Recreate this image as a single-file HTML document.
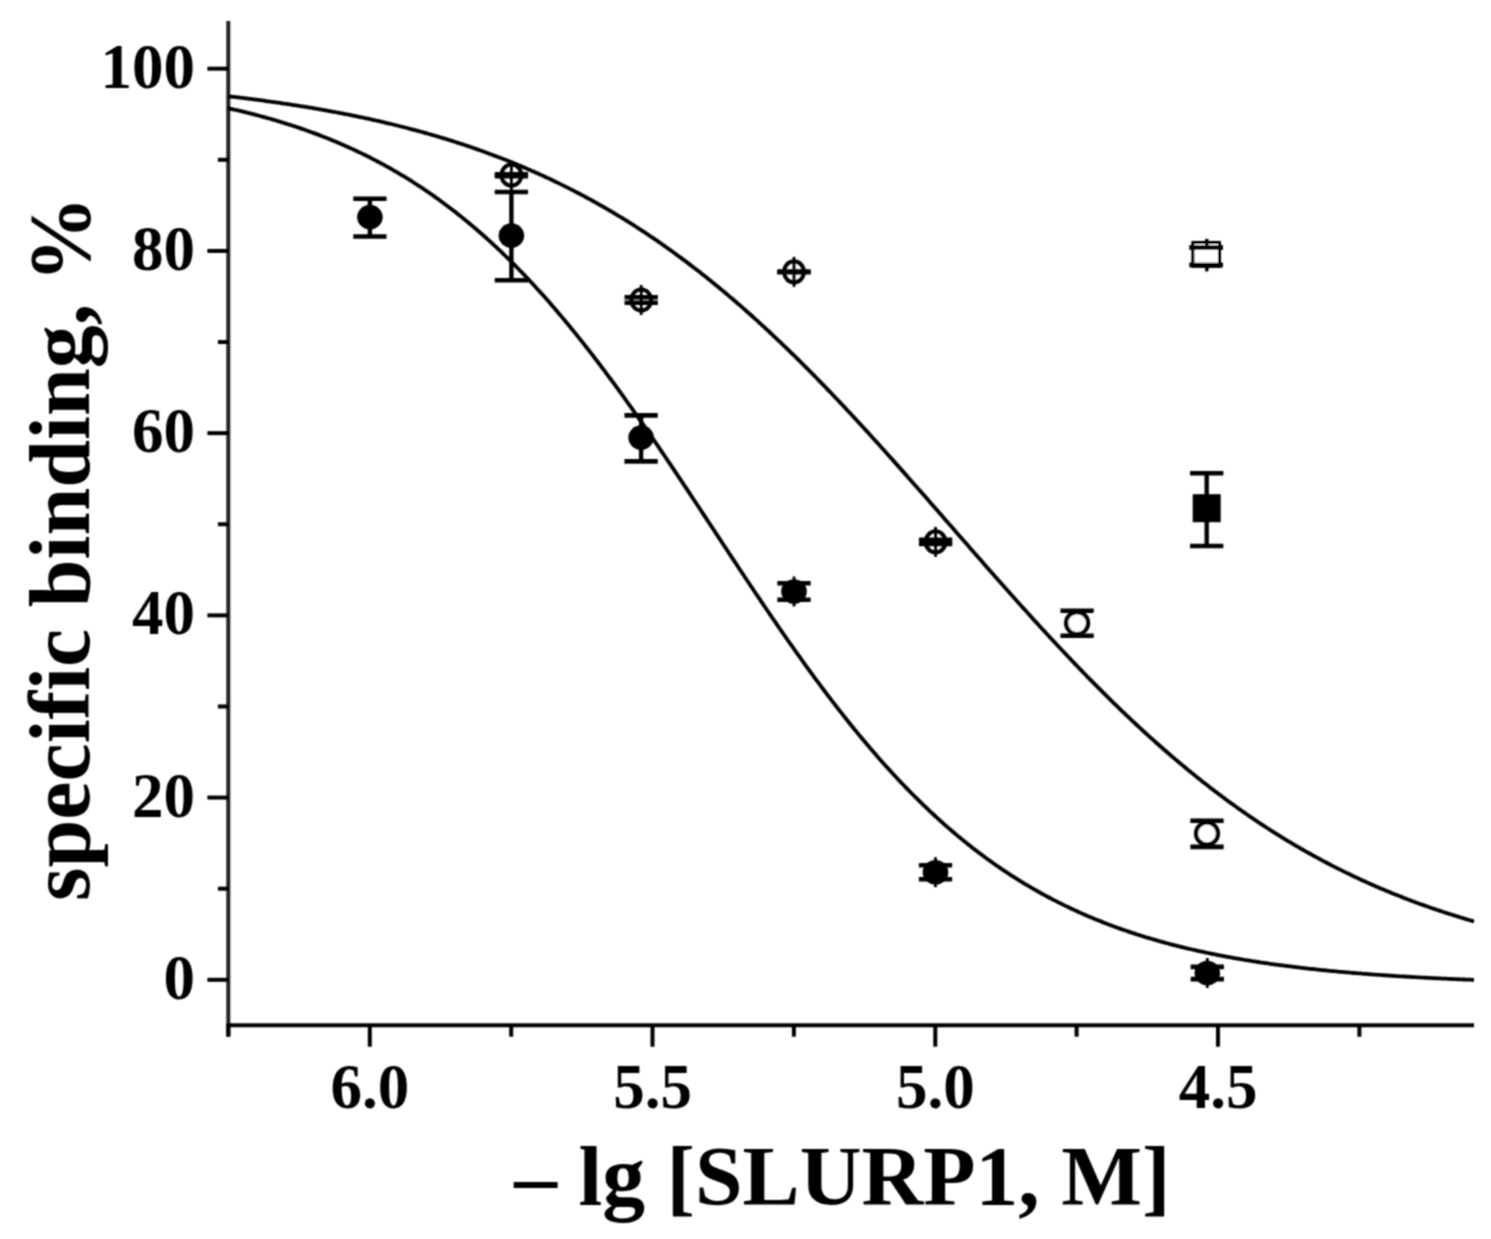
<!DOCTYPE html>
<html><head><meta charset="utf-8"><style>
html,body{margin:0;padding:0;background:#fff;}
body{width:1491px;height:1239px;overflow:hidden;}
svg{display:block;}
.t{font-family:"Liberation Serif",serif;font-weight:bold;fill:#000;}
</style></head><body>
<svg width="1491" height="1239" viewBox="0 0 1491 1239">
<defs><filter id="bl" x="0" y="0" width="1491" height="1239" filterUnits="userSpaceOnUse"><feConvolveMatrix order="3" kernelMatrix="1 2 1 2 4 2 1 2 1" divisor="16" edgeMode="duplicate"/></filter></defs>
<rect width="1491" height="1239" fill="#fff"/>
<g filter="url(#bl)">
<line x1="228.3" y1="21" x2="228.3" y2="1036.5" stroke="#222" stroke-width="4.0"/>
<line x1="226.4" y1="1025.2" x2="1474" y2="1025.2" stroke="#000" stroke-width="4.0"/>
<line x1="207.4" y1="979.80" x2="228.4" y2="979.80" stroke="#000" stroke-width="4.0"/>
<line x1="217.9" y1="888.69" x2="228.4" y2="888.69" stroke="#000" stroke-width="4.0"/>
<line x1="207.4" y1="797.58" x2="228.4" y2="797.58" stroke="#000" stroke-width="4.0"/>
<line x1="217.9" y1="706.47" x2="228.4" y2="706.47" stroke="#000" stroke-width="4.0"/>
<line x1="207.4" y1="615.36" x2="228.4" y2="615.36" stroke="#000" stroke-width="4.0"/>
<line x1="217.9" y1="524.25" x2="228.4" y2="524.25" stroke="#000" stroke-width="4.0"/>
<line x1="207.4" y1="433.14" x2="228.4" y2="433.14" stroke="#000" stroke-width="4.0"/>
<line x1="217.9" y1="342.03" x2="228.4" y2="342.03" stroke="#000" stroke-width="4.0"/>
<line x1="207.4" y1="250.92" x2="228.4" y2="250.92" stroke="#000" stroke-width="4.0"/>
<line x1="217.9" y1="159.81" x2="228.4" y2="159.81" stroke="#000" stroke-width="4.0"/>
<line x1="207.4" y1="68.70" x2="228.4" y2="68.70" stroke="#000" stroke-width="4.0"/>
<line x1="228.4" y1="1025.2" x2="228.4" y2="1036.7" stroke="#000" stroke-width="4.0"/>
<line x1="369.8" y1="1025.2" x2="369.8" y2="1046.7" stroke="#000" stroke-width="4.0"/>
<line x1="511.2" y1="1025.2" x2="511.2" y2="1036.7" stroke="#000" stroke-width="4.0"/>
<line x1="652.5" y1="1025.2" x2="652.5" y2="1046.7" stroke="#000" stroke-width="4.0"/>
<line x1="793.9" y1="1025.2" x2="793.9" y2="1036.7" stroke="#000" stroke-width="4.0"/>
<line x1="935.3" y1="1025.2" x2="935.3" y2="1046.7" stroke="#000" stroke-width="4.0"/>
<line x1="1076.6" y1="1025.2" x2="1076.6" y2="1036.7" stroke="#000" stroke-width="4.0"/>
<line x1="1218.0" y1="1025.2" x2="1218.0" y2="1046.7" stroke="#000" stroke-width="4.0"/>
<line x1="1359.4" y1="1025.2" x2="1359.4" y2="1036.7" stroke="#000" stroke-width="4.0"/>
<text x="195" y="998.8" text-anchor="end" class="t" font-size="63">0</text>
<text x="195" y="816.6" text-anchor="end" class="t" font-size="63">20</text>
<text x="195" y="634.4" text-anchor="end" class="t" font-size="63">40</text>
<text x="195" y="452.1" text-anchor="end" class="t" font-size="63">60</text>
<text x="195" y="269.9" text-anchor="end" class="t" font-size="63">80</text>
<text x="195" y="87.7" text-anchor="end" class="t" font-size="63">100</text>
<text x="369.8" y="1107.5" text-anchor="middle" class="t" font-size="63">6.0</text>
<text x="652.5" y="1107.5" text-anchor="middle" class="t" font-size="63">5.5</text>
<text x="935.3" y="1107.5" text-anchor="middle" class="t" font-size="63">5.0</text>
<text x="1218.0" y="1107.5" text-anchor="middle" class="t" font-size="63">4.5</text>
<text x="514.3" y="1205.3" class="t" font-size="85.6">– lg [SLURP1, M]</text>
<text transform="translate(89,901) rotate(-90)" class="t" font-size="86">specific binding, %</text>
<polyline points="228.0,108.19 230.0,108.63 232.0,109.09 234.0,109.54 236.0,110.00 238.0,110.47 240.0,110.94 242.0,111.42 244.0,111.91 246.0,112.40 248.0,112.90 250.0,113.40 252.0,113.91 254.0,114.42 256.0,114.95 258.0,115.47 260.0,116.01 262.0,116.55 264.0,117.10 266.0,117.65 268.0,118.21 270.0,118.78 272.0,119.36 274.0,119.94 276.0,120.53 278.0,121.12 280.0,121.72 282.0,122.33 284.0,122.95 286.0,123.58 288.0,124.21 290.0,124.85 292.0,125.50 294.0,126.15 296.0,126.81 298.0,127.48 300.0,128.16 302.0,128.85 304.0,129.54 306.0,130.25 308.0,130.96 310.0,131.68 312.0,132.41 314.0,133.14 316.0,133.89 318.0,134.64 320.0,135.40 322.0,136.17 324.0,136.95 326.0,137.74 328.0,138.54 330.0,139.35 332.0,140.17 334.0,140.99 336.0,141.83 338.0,142.67 340.0,143.53 342.0,144.39 344.0,145.27 346.0,146.15 348.0,147.04 350.0,147.95 352.0,148.86 354.0,149.79 356.0,150.72 358.0,151.67 360.0,152.62 362.0,153.59 364.0,154.57 366.0,155.55 368.0,156.55 370.0,157.56 372.0,158.58 374.0,159.62 376.0,160.66 378.0,161.71 380.0,162.78 382.0,163.86 384.0,164.94 386.0,166.04 388.0,167.16 390.0,168.28 392.0,169.42 394.0,170.56 396.0,171.73 398.0,172.90 400.0,174.08 402.0,175.28 404.0,176.49 406.0,177.71 408.0,178.95 410.0,180.19 412.0,181.45 414.0,182.73 416.0,184.01 418.0,185.31 420.0,186.62 422.0,187.95 424.0,189.29 426.0,190.64 428.0,192.01 430.0,193.38 432.0,194.78 434.0,196.18 436.0,197.60 438.0,199.04 440.0,200.49 442.0,201.95 444.0,203.43 446.0,204.92 448.0,206.42 450.0,207.94 452.0,209.47 454.0,211.02 456.0,212.58 458.0,214.16 460.0,215.75 462.0,217.36 464.0,218.98 466.0,220.61 468.0,222.26 470.0,223.93 472.0,225.61 474.0,227.30 476.0,229.01 478.0,230.74 480.0,232.48 482.0,234.23 484.0,236.00 486.0,237.79 488.0,239.59 490.0,241.41 492.0,243.24 494.0,245.09 496.0,246.95 498.0,248.83 500.0,250.72 502.0,252.63 504.0,254.56 506.0,256.50 508.0,258.45 510.0,260.43 512.0,262.41 514.0,264.42 516.0,266.43 518.0,268.47 520.0,270.52 522.0,272.58 524.0,274.66 526.0,276.76 528.0,278.87 530.0,281.00 532.0,283.14 534.0,285.30 536.0,287.47 538.0,289.66 540.0,291.87 542.0,294.09 544.0,296.32 546.0,298.58 548.0,300.84 550.0,303.12 552.0,305.42 554.0,307.73 556.0,310.06 558.0,312.40 560.0,314.75 562.0,317.13 564.0,319.51 566.0,321.91 568.0,324.33 570.0,326.76 572.0,329.20 574.0,331.66 576.0,334.13 578.0,336.62 580.0,339.12 582.0,341.64 584.0,344.17 586.0,346.71 588.0,349.27 590.0,351.84 592.0,354.42 594.0,357.02 596.0,359.63 598.0,362.25 600.0,364.88 602.0,367.53 604.0,370.19 606.0,372.87 608.0,375.55 610.0,378.25 612.0,380.96 614.0,383.68 616.0,386.42 618.0,389.16 620.0,391.92 622.0,394.68 624.0,397.46 626.0,400.25 628.0,403.05 630.0,405.86 632.0,408.68 634.0,411.51 636.0,414.35 638.0,417.20 640.0,420.06 642.0,422.93 644.0,425.80 646.0,428.69 648.0,431.58 650.0,434.48 652.0,437.40 654.0,440.31 656.0,443.24 658.0,446.17 660.0,449.11 662.0,452.06 664.0,455.02 666.0,457.98 668.0,460.94 670.0,463.92 672.0,466.89 674.0,469.88 676.0,472.87 678.0,475.86 680.0,478.86 682.0,481.86 684.0,484.87 686.0,487.88 688.0,490.90 690.0,493.92 692.0,496.94 694.0,499.96 696.0,502.99 698.0,506.02 700.0,509.05 702.0,512.09 704.0,515.12 706.0,518.16 708.0,521.19 710.0,524.23 712.0,527.27 714.0,530.31 716.0,533.35 718.0,536.39 720.0,539.42 722.0,542.46 724.0,545.50 726.0,548.53 728.0,551.56 730.0,554.60 732.0,557.62 734.0,560.65 736.0,563.67 738.0,566.69 740.0,569.71 742.0,572.72 744.0,575.73 746.0,578.74 748.0,581.74 750.0,584.74 752.0,587.73 754.0,590.72 756.0,593.70 758.0,596.68 760.0,599.65 762.0,602.61 764.0,605.57 766.0,608.52 768.0,611.46 770.0,614.40 772.0,617.33 774.0,620.25 776.0,623.17 778.0,626.08 780.0,628.97 782.0,631.86 784.0,634.75 786.0,637.62 788.0,640.48 790.0,643.34 792.0,646.18 794.0,649.02 796.0,651.84 798.0,654.66 800.0,657.46 802.0,660.26 804.0,663.04 806.0,665.82 808.0,668.58 810.0,671.33 812.0,674.07 814.0,676.80 816.0,679.51 818.0,682.22 820.0,684.91 822.0,687.59 824.0,690.26 826.0,692.92 828.0,695.56 830.0,698.19 832.0,700.81 834.0,703.41 836.0,706.00 838.0,708.58 840.0,711.14 842.0,713.69 844.0,716.23 846.0,718.75 848.0,721.26 850.0,723.76 852.0,726.24 854.0,728.70 856.0,731.16 858.0,733.59 860.0,736.02 862.0,738.43 864.0,740.82 866.0,743.20 868.0,745.57 870.0,747.92 872.0,750.25 874.0,752.57 876.0,754.87 878.0,757.16 880.0,759.44 882.0,761.70 884.0,763.94 886.0,766.17 888.0,768.38 890.0,770.58 892.0,772.76 894.0,774.93 896.0,777.08 898.0,779.22 900.0,781.34 902.0,783.45 904.0,785.53 906.0,787.61 908.0,789.67 910.0,791.71 912.0,793.74 914.0,795.75 916.0,797.74 918.0,799.72 920.0,801.69 922.0,803.64 924.0,805.57 926.0,807.49 928.0,809.39 930.0,811.28 932.0,813.15 934.0,815.01 936.0,816.85 938.0,818.67 940.0,820.48 942.0,822.28 944.0,824.06 946.0,825.82 948.0,827.57 950.0,829.30 952.0,831.02 954.0,832.73 956.0,834.41 958.0,836.09 960.0,837.75 962.0,839.39 964.0,841.02 966.0,842.63 968.0,844.23 970.0,845.82 972.0,847.39 974.0,848.94 976.0,850.48 978.0,852.01 980.0,853.52 982.0,855.02 984.0,856.51 986.0,857.98 988.0,859.43 990.0,860.87 992.0,862.30 994.0,863.72 996.0,865.12 998.0,866.50 1000.0,867.88 1002.0,869.24 1004.0,870.58 1006.0,871.92 1008.0,873.24 1010.0,874.54 1012.0,875.84 1014.0,877.12 1016.0,878.38 1018.0,879.64 1020.0,880.88 1022.0,882.11 1024.0,883.33 1026.0,884.53 1028.0,885.72 1030.0,886.90 1032.0,888.07 1034.0,889.22 1036.0,890.36 1038.0,891.50 1040.0,892.61 1042.0,893.72 1044.0,894.82 1046.0,895.90 1048.0,896.97 1050.0,898.03 1052.0,899.08 1054.0,900.12 1056.0,901.15 1058.0,902.16 1060.0,903.17 1062.0,904.16 1064.0,905.14 1066.0,906.12 1068.0,907.08 1070.0,908.03 1072.0,908.97 1074.0,909.90 1076.0,910.82 1078.0,911.73 1080.0,912.63 1082.0,913.52 1084.0,914.40 1086.0,915.27 1088.0,916.13 1090.0,916.98 1092.0,917.82 1094.0,918.65 1096.0,919.47 1098.0,920.29 1100.0,921.09 1102.0,921.88 1104.0,922.67 1106.0,923.45 1108.0,924.21 1110.0,924.97 1112.0,925.72 1114.0,926.46 1116.0,927.20 1118.0,927.92 1120.0,928.64 1122.0,929.34 1124.0,930.04 1126.0,930.73 1128.0,931.42 1130.0,932.09 1132.0,932.76 1134.0,933.42 1136.0,934.07 1138.0,934.71 1140.0,935.35 1142.0,935.98 1144.0,936.60 1146.0,937.21 1148.0,937.82 1150.0,938.42 1152.0,939.01 1154.0,939.60 1156.0,940.18 1158.0,940.75 1160.0,941.31 1162.0,941.87 1164.0,942.42 1166.0,942.97 1168.0,943.51 1170.0,944.04 1172.0,944.56 1174.0,945.08 1176.0,945.60 1178.0,946.10 1180.0,946.60 1182.0,947.10 1184.0,947.59 1186.0,948.07 1188.0,948.54 1190.0,949.01 1192.0,949.48 1194.0,949.94 1196.0,950.39 1198.0,950.84 1200.0,951.28 1202.0,951.72 1204.0,952.15 1206.0,952.58 1208.0,953.00 1210.0,953.42 1212.0,953.83 1214.0,954.23 1216.0,954.64 1218.0,955.03 1220.0,955.42 1222.0,955.81 1224.0,956.19 1226.0,956.57 1228.0,956.94 1230.0,957.31 1232.0,957.67 1234.0,958.03 1236.0,958.38 1238.0,958.73 1240.0,959.08 1242.0,959.42 1244.0,959.75 1246.0,960.09 1248.0,960.41 1250.0,960.74 1252.0,961.06 1254.0,961.37 1256.0,961.69 1258.0,962.00 1260.0,962.30 1262.0,962.60 1264.0,962.90 1266.0,963.19 1268.0,963.48 1270.0,963.76 1272.0,964.05 1274.0,964.33 1276.0,964.60 1278.0,964.87 1280.0,965.14 1282.0,965.40 1284.0,965.67 1286.0,965.92 1288.0,966.18 1290.0,966.43 1292.0,966.68 1294.0,966.92 1296.0,967.17 1298.0,967.40 1300.0,967.64 1302.0,967.87 1304.0,968.10 1306.0,968.33 1308.0,968.55 1310.0,968.78 1312.0,968.99 1314.0,969.21 1316.0,969.42 1318.0,969.63 1320.0,969.84 1322.0,970.05 1324.0,970.25 1326.0,970.45 1328.0,970.64 1330.0,970.84 1332.0,971.03 1334.0,971.22 1336.0,971.41 1338.0,971.59 1340.0,971.77 1342.0,971.95 1344.0,972.13 1346.0,972.31 1348.0,972.48 1350.0,972.65 1352.0,972.82 1354.0,972.99 1356.0,973.15 1358.0,973.31 1360.0,973.47 1362.0,973.63 1364.0,973.79 1366.0,973.94 1368.0,974.10 1370.0,974.25 1372.0,974.39 1374.0,974.54 1376.0,974.68 1378.0,974.83 1380.0,974.97 1382.0,975.11 1384.0,975.24 1386.0,975.38 1388.0,975.51 1390.0,975.64 1392.0,975.77 1394.0,975.90 1396.0,976.03 1398.0,976.15 1400.0,976.28 1402.0,976.40 1404.0,976.52 1406.0,976.64 1408.0,976.76 1410.0,976.87 1412.0,976.99 1414.0,977.10 1416.0,977.21 1418.0,977.32 1420.0,977.43 1422.0,977.54 1424.0,977.64 1426.0,977.75 1428.0,977.85 1430.0,977.95 1432.0,978.05 1434.0,978.15 1436.0,978.25 1438.0,978.34 1440.0,978.44 1442.0,978.53 1444.0,978.62 1446.0,978.72 1448.0,978.81 1450.0,978.89 1452.0,978.98 1454.0,979.07 1456.0,979.16 1458.0,979.24 1460.0,979.32 1462.0,979.41 1464.0,979.49 1466.0,979.57 1468.0,979.65 1470.0,979.72 1472.0,979.80 1474.0,979.88" fill="none" stroke="#000" stroke-width="3.8" stroke-linejoin="round"/>
<polyline points="228.0,96.29 230.0,96.52 232.0,96.75 234.0,96.98 236.0,97.22 238.0,97.45 240.0,97.69 242.0,97.93 244.0,98.18 246.0,98.42 248.0,98.67 250.0,98.92 252.0,99.17 254.0,99.43 256.0,99.68 258.0,99.94 260.0,100.21 262.0,100.47 264.0,100.74 266.0,101.01 268.0,101.28 270.0,101.56 272.0,101.84 274.0,102.12 276.0,102.40 278.0,102.69 280.0,102.97 282.0,103.26 284.0,103.56 286.0,103.86 288.0,104.16 290.0,104.46 292.0,104.76 294.0,105.07 296.0,105.38 298.0,105.70 300.0,106.01 302.0,106.33 304.0,106.66 306.0,106.98 308.0,107.31 310.0,107.64 312.0,107.98 314.0,108.32 316.0,108.66 318.0,109.00 320.0,109.35 322.0,109.70 324.0,110.06 326.0,110.41 328.0,110.77 330.0,111.14 332.0,111.51 334.0,111.88 336.0,112.25 338.0,112.63 340.0,113.01 342.0,113.40 344.0,113.78 346.0,114.18 348.0,114.57 350.0,114.97 352.0,115.37 354.0,115.78 356.0,116.19 358.0,116.61 360.0,117.02 362.0,117.45 364.0,117.87 366.0,118.30 368.0,118.73 370.0,119.17 372.0,119.61 374.0,120.06 376.0,120.51 378.0,120.96 380.0,121.42 382.0,121.88 384.0,122.35 386.0,122.82 388.0,123.29 390.0,123.77 392.0,124.25 394.0,124.74 396.0,125.23 398.0,125.73 400.0,126.23 402.0,126.73 404.0,127.24 406.0,127.76 408.0,128.28 410.0,128.80 412.0,129.33 414.0,129.86 416.0,130.40 418.0,130.94 420.0,131.49 422.0,132.04 424.0,132.59 426.0,133.15 428.0,133.72 430.0,134.29 432.0,134.87 434.0,135.45 436.0,136.04 438.0,136.63 440.0,137.22 442.0,137.83 444.0,138.43 446.0,139.05 448.0,139.66 450.0,140.29 452.0,140.91 454.0,141.55 456.0,142.19 458.0,142.83 460.0,143.48 462.0,144.14 464.0,144.80 466.0,145.47 468.0,146.14 470.0,146.82 472.0,147.50 474.0,148.19 476.0,148.89 478.0,149.59 480.0,150.30 482.0,151.01 484.0,151.73 486.0,152.45 488.0,153.19 490.0,153.92 492.0,154.67 494.0,155.42 496.0,156.17 498.0,156.93 500.0,157.70 502.0,158.48 504.0,159.26 506.0,160.05 508.0,160.84 510.0,161.64 512.0,162.45 514.0,163.26 516.0,164.08 518.0,164.91 520.0,165.74 522.0,166.58 524.0,167.43 526.0,168.28 528.0,169.15 530.0,170.01 532.0,170.89 534.0,171.77 536.0,172.66 538.0,173.55 540.0,174.46 542.0,175.36 544.0,176.28 546.0,177.21 548.0,178.14 550.0,179.07 552.0,180.02 554.0,180.97 556.0,181.93 558.0,182.90 560.0,183.88 562.0,184.86 564.0,185.85 566.0,186.85 568.0,187.85 570.0,188.86 572.0,189.88 574.0,190.91 576.0,191.95 578.0,192.99 580.0,194.04 582.0,195.10 584.0,196.17 586.0,197.24 588.0,198.33 590.0,199.42 592.0,200.51 594.0,201.62 596.0,202.74 598.0,203.86 600.0,204.99 602.0,206.13 604.0,207.27 606.0,208.43 608.0,209.59 610.0,210.76 612.0,211.94 614.0,213.13 616.0,214.33 618.0,215.53 620.0,216.75 622.0,217.97 624.0,219.20 626.0,220.44 628.0,221.68 630.0,222.94 632.0,224.20 634.0,225.47 636.0,226.75 638.0,228.04 640.0,229.34 642.0,230.65 644.0,231.96 646.0,233.29 648.0,234.62 650.0,235.96 652.0,237.31 654.0,238.67 656.0,240.04 658.0,241.41 660.0,242.80 662.0,244.19 664.0,245.60 666.0,247.01 668.0,248.43 670.0,249.86 672.0,251.29 674.0,252.74 676.0,254.19 678.0,255.66 680.0,257.13 682.0,258.61 684.0,260.11 686.0,261.60 688.0,263.11 690.0,264.63 692.0,266.16 694.0,267.69 696.0,269.24 698.0,270.79 700.0,272.35 702.0,273.92 704.0,275.50 706.0,277.09 708.0,278.69 710.0,280.29 712.0,281.91 714.0,283.53 716.0,285.16 718.0,286.81 720.0,288.46 722.0,290.11 724.0,291.78 726.0,293.46 728.0,295.14 730.0,296.84 732.0,298.54 734.0,300.25 736.0,301.97 738.0,303.70 740.0,305.44 742.0,307.18 744.0,308.94 746.0,310.70 748.0,312.47 750.0,314.25 752.0,316.04 754.0,317.84 756.0,319.64 758.0,321.45 760.0,323.28 762.0,325.11 764.0,326.94 766.0,328.79 768.0,330.65 770.0,332.51 772.0,334.38 774.0,336.26 776.0,338.14 778.0,340.04 780.0,341.94 782.0,343.85 784.0,345.77 786.0,347.70 788.0,349.63 790.0,351.57 792.0,353.52 794.0,355.48 796.0,357.44 798.0,359.41 800.0,361.39 802.0,363.38 804.0,365.37 806.0,367.37 808.0,369.38 810.0,371.40 812.0,373.42 814.0,375.45 816.0,377.48 818.0,379.52 820.0,381.57 822.0,383.63 824.0,385.69 826.0,387.76 828.0,389.84 830.0,391.92 832.0,394.01 834.0,396.10 836.0,398.20 838.0,400.31 840.0,402.42 842.0,404.54 844.0,406.66 846.0,408.79 848.0,410.93 850.0,413.07 852.0,415.21 854.0,417.36 856.0,419.52 858.0,421.68 860.0,423.85 862.0,426.02 864.0,428.20 866.0,430.38 868.0,432.57 870.0,434.76 872.0,436.96 874.0,439.16 876.0,441.36 878.0,443.57 880.0,445.78 882.0,448.00 884.0,450.22 886.0,452.45 888.0,454.68 890.0,456.91 892.0,459.14 894.0,461.38 896.0,463.63 898.0,465.87 900.0,468.12 902.0,470.37 904.0,472.63 906.0,474.88 908.0,477.14 910.0,479.41 912.0,481.67 914.0,483.94 916.0,486.21 918.0,488.48 920.0,490.75 922.0,493.03 924.0,495.31 926.0,497.59 928.0,499.87 930.0,502.15 932.0,504.43 934.0,506.72 936.0,509.00 938.0,511.29 940.0,513.57 942.0,515.86 944.0,518.15 946.0,520.44 948.0,522.73 950.0,525.02 952.0,527.31 954.0,529.60 956.0,531.89 958.0,534.18 960.0,536.47 962.0,538.76 964.0,541.05 966.0,543.33 968.0,545.62 970.0,547.91 972.0,550.19 974.0,552.48 976.0,554.76 978.0,557.04 980.0,559.32 982.0,561.60 984.0,563.88 986.0,566.15 988.0,568.42 990.0,570.70 992.0,572.96 994.0,575.23 996.0,577.49 998.0,579.76 1000.0,582.02 1002.0,584.27 1004.0,586.53 1006.0,588.78 1008.0,591.02 1010.0,593.27 1012.0,595.51 1014.0,597.75 1016.0,599.98 1018.0,602.21 1020.0,604.44 1022.0,606.66 1024.0,608.88 1026.0,611.10 1028.0,613.31 1030.0,615.52 1032.0,617.72 1034.0,619.92 1036.0,622.12 1038.0,624.31 1040.0,626.49 1042.0,628.67 1044.0,630.85 1046.0,633.02 1048.0,635.18 1050.0,637.34 1052.0,639.50 1054.0,641.65 1056.0,643.79 1058.0,645.93 1060.0,648.07 1062.0,650.19 1064.0,652.32 1066.0,654.43 1068.0,656.54 1070.0,658.65 1072.0,660.74 1074.0,662.84 1076.0,664.92 1078.0,667.00 1080.0,669.08 1082.0,671.14 1084.0,673.20 1086.0,675.26 1088.0,677.30 1090.0,679.34 1092.0,681.38 1094.0,683.40 1096.0,685.42 1098.0,687.43 1100.0,689.44 1102.0,691.44 1104.0,693.43 1106.0,695.41 1108.0,697.39 1110.0,699.36 1112.0,701.32 1114.0,703.27 1116.0,705.22 1118.0,707.16 1120.0,709.09 1122.0,711.01 1124.0,712.93 1126.0,714.84 1128.0,716.74 1130.0,718.63 1132.0,720.51 1134.0,722.39 1136.0,724.26 1138.0,726.12 1140.0,727.97 1142.0,729.81 1144.0,731.65 1146.0,733.48 1148.0,735.29 1150.0,737.11 1152.0,738.91 1154.0,740.70 1156.0,742.49 1158.0,744.26 1160.0,746.03 1162.0,747.79 1164.0,749.54 1166.0,751.29 1168.0,753.02 1170.0,754.75 1172.0,756.46 1174.0,758.17 1176.0,759.87 1178.0,761.56 1180.0,763.24 1182.0,764.92 1184.0,766.58 1186.0,768.24 1188.0,769.89 1190.0,771.52 1192.0,773.15 1194.0,774.77 1196.0,776.39 1198.0,777.99 1200.0,779.58 1202.0,781.17 1204.0,782.75 1206.0,784.31 1208.0,785.87 1210.0,787.42 1212.0,788.96 1214.0,790.49 1216.0,792.02 1218.0,793.53 1220.0,795.04 1222.0,796.53 1224.0,798.02 1226.0,799.50 1228.0,800.97 1230.0,802.43 1232.0,803.89 1234.0,805.33 1236.0,806.76 1238.0,808.19 1240.0,809.61 1242.0,811.01 1244.0,812.41 1246.0,813.81 1248.0,815.19 1250.0,816.56 1252.0,817.92 1254.0,819.28 1256.0,820.63 1258.0,821.97 1260.0,823.30 1262.0,824.62 1264.0,825.93 1266.0,827.23 1268.0,828.53 1270.0,829.81 1272.0,831.09 1274.0,832.36 1276.0,833.62 1278.0,834.87 1280.0,836.12 1282.0,837.35 1284.0,838.58 1286.0,839.80 1288.0,841.01 1290.0,842.21 1292.0,843.40 1294.0,844.59 1296.0,845.77 1298.0,846.94 1300.0,848.10 1302.0,849.25 1304.0,850.39 1306.0,851.53 1308.0,852.66 1310.0,853.78 1312.0,854.89 1314.0,855.99 1316.0,857.09 1318.0,858.18 1320.0,859.26 1322.0,860.33 1324.0,861.39 1326.0,862.45 1328.0,863.50 1330.0,864.54 1332.0,865.57 1334.0,866.60 1336.0,867.61 1338.0,868.62 1340.0,869.63 1342.0,870.62 1344.0,871.61 1346.0,872.59 1348.0,873.56 1350.0,874.53 1352.0,875.48 1354.0,876.43 1356.0,877.38 1358.0,878.31 1360.0,879.24 1362.0,880.16 1364.0,881.08 1366.0,881.98 1368.0,882.88 1370.0,883.78 1372.0,884.66 1374.0,885.54 1376.0,886.41 1378.0,887.28 1380.0,888.14 1382.0,888.99 1384.0,889.83 1386.0,890.67 1388.0,891.50 1390.0,892.33 1392.0,893.15 1394.0,893.96 1396.0,894.76 1398.0,895.56 1400.0,896.35 1402.0,897.14 1404.0,897.92 1406.0,898.69 1408.0,899.46 1410.0,900.22 1412.0,900.97 1414.0,901.72 1416.0,902.46 1418.0,903.20 1420.0,903.93 1422.0,904.65 1424.0,905.37 1426.0,906.08 1428.0,906.78 1430.0,907.48 1432.0,908.18 1434.0,908.86 1436.0,909.55 1438.0,910.22 1440.0,910.89 1442.0,911.56 1444.0,912.22 1446.0,912.87 1448.0,913.52 1450.0,914.16 1452.0,914.80 1454.0,915.43 1456.0,916.06 1458.0,916.68 1460.0,917.30 1462.0,917.91 1464.0,918.51 1466.0,919.11 1468.0,919.71 1470.0,920.30 1472.0,920.88 1474.0,921.46" fill="none" stroke="#000" stroke-width="3.8" stroke-linejoin="round"/>
<line x1="369.9" y1="198.7" x2="369.9" y2="236.5" stroke="#000" stroke-width="4.4"/>
<line x1="353.25" y1="198.7" x2="386.54999999999995" y2="198.7" stroke="#000" stroke-width="4.6"/>
<line x1="353.25" y1="236.5" x2="386.54999999999995" y2="236.5" stroke="#000" stroke-width="4.6"/>
<ellipse cx="369.9" cy="217.1" rx="12.8" ry="12.3" fill="#000"/>
<line x1="511.4" y1="192" x2="511.4" y2="280.2" stroke="#000" stroke-width="4.4"/>
<line x1="494.75" y1="192" x2="528.05" y2="192" stroke="#000" stroke-width="4.6"/>
<line x1="494.75" y1="280.2" x2="528.05" y2="280.2" stroke="#000" stroke-width="4.6"/>
<ellipse cx="511.4" cy="235.6" rx="12.8" ry="12.3" fill="#000"/>
<line x1="511.4" y1="160.2" x2="511.4" y2="190.2" stroke="#000" stroke-width="2.8"/>
<ellipse cx="511.4" cy="175.2" rx="9.9" ry="10.6" fill="none" stroke="#000" stroke-width="4.0"/>
<line x1="494.75" y1="174.2" x2="528.05" y2="174.2" stroke="#000" stroke-width="4.6"/>
<line x1="494.75" y1="176.2" x2="528.05" y2="176.2" stroke="#000" stroke-width="4.6"/>
<line x1="641.1" y1="415.4" x2="641.1" y2="461.4" stroke="#000" stroke-width="4.4"/>
<line x1="624.45" y1="415.4" x2="657.75" y2="415.4" stroke="#000" stroke-width="4.6"/>
<line x1="624.45" y1="461.4" x2="657.75" y2="461.4" stroke="#000" stroke-width="4.6"/>
<ellipse cx="641.1" cy="437.6" rx="12.8" ry="12.3" fill="#000"/>
<line x1="641.2" y1="285.0" x2="641.2" y2="315.0" stroke="#000" stroke-width="2.8"/>
<ellipse cx="641.2" cy="300.0" rx="9.9" ry="10.6" fill="none" stroke="#000" stroke-width="4.0"/>
<line x1="624.5500000000001" y1="297.3" x2="657.85" y2="297.3" stroke="#000" stroke-width="4.6"/>
<line x1="624.5500000000001" y1="302.7" x2="657.85" y2="302.7" stroke="#000" stroke-width="4.6"/>
<line x1="794.0" y1="256.9" x2="794.0" y2="286.9" stroke="#000" stroke-width="2.8"/>
<ellipse cx="794.0" cy="271.9" rx="9.9" ry="10.6" fill="none" stroke="#000" stroke-width="4.0"/>
<line x1="777.35" y1="271.59999999999997" x2="810.65" y2="271.59999999999997" stroke="#000" stroke-width="4.6"/>
<line x1="777.35" y1="272.2" x2="810.65" y2="272.2" stroke="#000" stroke-width="4.6"/>
<line x1="794.0" y1="583.3" x2="794.0" y2="599.7" stroke="#000" stroke-width="4.4"/>
<line x1="777.35" y1="583.3" x2="810.65" y2="583.3" stroke="#000" stroke-width="4.6"/>
<line x1="777.35" y1="599.7" x2="810.65" y2="599.7" stroke="#000" stroke-width="4.6"/>
<line x1="794.0" y1="576.5" x2="794.0" y2="606.5" stroke="#000" stroke-width="2.8"/>
<ellipse cx="794.0" cy="591.5" rx="12.8" ry="12.3" fill="#000"/>
<line x1="935.6" y1="526.9" x2="935.6" y2="556.9" stroke="#000" stroke-width="2.8"/>
<ellipse cx="935.6" cy="541.9" rx="9.9" ry="10.6" fill="none" stroke="#000" stroke-width="4.0"/>
<line x1="918.95" y1="539.8" x2="952.25" y2="539.8" stroke="#000" stroke-width="4.6"/>
<line x1="918.95" y1="544.0" x2="952.25" y2="544.0" stroke="#000" stroke-width="4.6"/>
<line x1="935.5" y1="865.2" x2="935.5" y2="879.2" stroke="#000" stroke-width="4.4"/>
<line x1="918.85" y1="865.2" x2="952.15" y2="865.2" stroke="#000" stroke-width="4.6"/>
<line x1="918.85" y1="879.2" x2="952.15" y2="879.2" stroke="#000" stroke-width="4.6"/>
<line x1="935.5" y1="857.2" x2="935.5" y2="887.2" stroke="#000" stroke-width="2.8"/>
<ellipse cx="935.5" cy="872.2" rx="12.8" ry="12.3" fill="#000"/>
<line x1="1077.1" y1="610.7" x2="1077.1" y2="635.8" stroke="#000" stroke-width="4.4"/>
<line x1="1060.4499999999998" y1="610.7" x2="1093.75" y2="610.7" stroke="#000" stroke-width="4.6"/>
<line x1="1060.4499999999998" y1="635.8" x2="1093.75" y2="635.8" stroke="#000" stroke-width="4.6"/>
<circle cx="1077.1" cy="623.1" r="11" fill="#fff" stroke="#000" stroke-width="4.2"/>
<line x1="1206.2" y1="247.5" x2="1206.2" y2="265.0" stroke="#000" stroke-width="4.4"/>
<line x1="1189.55" y1="247.5" x2="1222.8500000000001" y2="247.5" stroke="#000" stroke-width="4.6"/>
<line x1="1189.55" y1="265.0" x2="1222.8500000000001" y2="265.0" stroke="#000" stroke-width="4.6"/>
<rect x="1192.9" y="242.45000000000002" width="26.6" height="23.9" fill="#fff" stroke="#000" stroke-width="3.0"/>
<line x1="1206.8" y1="238.9" x2="1206.8" y2="247.5" stroke="#000" stroke-width="3.4"/>
<line x1="1206.8" y1="265.0" x2="1206.8" y2="271.4" stroke="#000" stroke-width="3.4"/>
<line x1="1189.55" y1="247.5" x2="1222.8500000000001" y2="247.5" stroke="#000" stroke-width="4.6"/>
<line x1="1189.55" y1="265.0" x2="1222.8500000000001" y2="265.0" stroke="#000" stroke-width="4.6"/>
<line x1="1206.7" y1="473.3" x2="1206.7" y2="546" stroke="#000" stroke-width="4.4"/>
<line x1="1190.05" y1="473.3" x2="1223.3500000000001" y2="473.3" stroke="#000" stroke-width="4.6"/>
<line x1="1190.05" y1="546" x2="1223.3500000000001" y2="546" stroke="#000" stroke-width="4.6"/>
<rect x="1192.7" y="494.2" width="28" height="28" fill="#000"/>
<line x1="1207.0" y1="820.8" x2="1207.0" y2="846.9" stroke="#000" stroke-width="4.4"/>
<line x1="1190.35" y1="820.8" x2="1223.65" y2="820.8" stroke="#000" stroke-width="4.6"/>
<line x1="1190.35" y1="846.9" x2="1223.65" y2="846.9" stroke="#000" stroke-width="4.6"/>
<circle cx="1207.0" cy="833.5" r="11" fill="#fff" stroke="#000" stroke-width="4.2"/>
<line x1="1207.3" y1="966.9" x2="1207.3" y2="979.1" stroke="#000" stroke-width="4.4"/>
<line x1="1190.6499999999999" y1="966.9" x2="1223.95" y2="966.9" stroke="#000" stroke-width="4.6"/>
<line x1="1190.6499999999999" y1="979.1" x2="1223.95" y2="979.1" stroke="#000" stroke-width="4.6"/>
<line x1="1207.3" y1="958.0" x2="1207.3" y2="988.0" stroke="#000" stroke-width="2.8"/>
<ellipse cx="1207.3" cy="973.0" rx="12.8" ry="12.3" fill="#000"/>
</g>
</svg>
</body></html>
